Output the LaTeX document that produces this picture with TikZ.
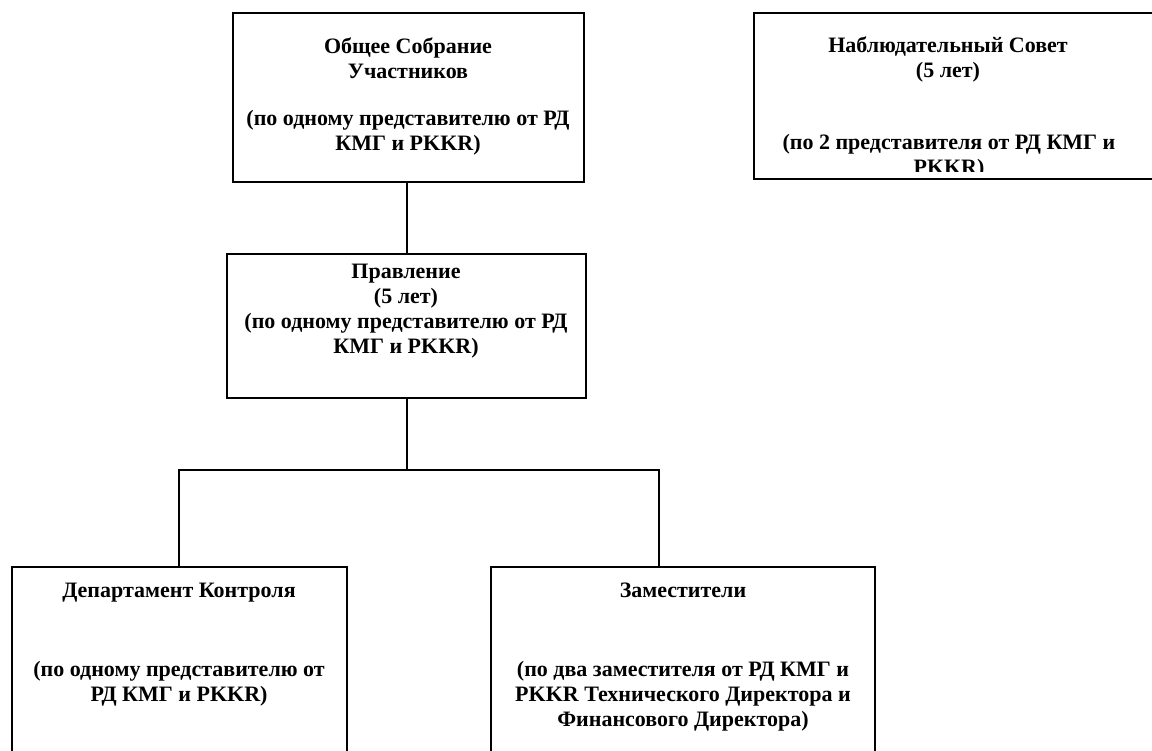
\documentclass[tikz,border=0pt]{standalone}
\usepackage{fontspec}
\setmainfont{Liberation Serif}
\begin{document}
\begin{tikzpicture}[x=1pt,y=-1pt,
  box/.style={draw=black, line width=1.8pt, rectangle, inner sep=0pt},
  lbl/.style={inner sep=0pt, anchor=north, align=center, font=\bfseries\fontsize{22}{25}\selectfont},
  link/.style={draw=black, line width=1.8pt}]
\useasboundingbox (0,0) rectangle (1152,751);
\clip (0,0) rectangle (1152,751);
% boxes
\node[box, minimum width=351pt, minimum height=169pt] (b1) at (408.5,97.5) {};
\node[box, minimum width=411pt, minimum height=166pt] (b2) at (959.5,96) {};
\node[box, minimum width=359pt, minimum height=144pt] (b3) at (406.5,326) {};
\node[box, minimum width=335pt, minimum height=203pt] (b4) at (179.5,668.5) {};
\node[box, minimum width=384pt, minimum height=203pt] (b5) at (683,668.5) {};
% texts
\node[lbl] (t1a) at (408,38) {Общее Собрание\\Участников};
\node[lbl] (t1b) at (408,110) {(по одному представителю от РД\\КМГ и PKKR)};
\node[lbl] (t2a) at (948,37) {Наблюдательный Совет\\(5 лет)};
\begin{scope}
\clip (754,13) rectangle (1152,171.5);
\node[lbl] (t2b) at (949,134) {(по 2 представителя от РД КМГ и\\PKKR)};
\end{scope}
\node[lbl] (t3) at (406,264) {Правление\\(5 лет)\\(по одному представителю от РД\\КМГ и PKKR)};
\node[lbl] (t4a) at (179,583) {Департамент Контроля};
\node[lbl] (t4b) at (179,661) {(по одному представителю от\\РД КМГ и PKKR)};
\node[lbl] (t5a) at (683,583) {Заместители};
\node[lbl] (t5b) at (683,661) {(по два заместителя от РД КМГ и\\PKKR Технического Директора и\\Финансового Директора)};
% connectors
\coordinate (j) at (407,470);
\coordinate (l) at (179,470);
\coordinate (r) at (659,470);
\draw[link] (b1.south -| j) -- (b3.north -| j);
\draw[link] (b3.south -| j) -- (j);
\draw[link, line cap=rect] (b4.north -| l) -- (l) -- (r) -- (b5.north -| r);
\end{tikzpicture}
\end{document}
